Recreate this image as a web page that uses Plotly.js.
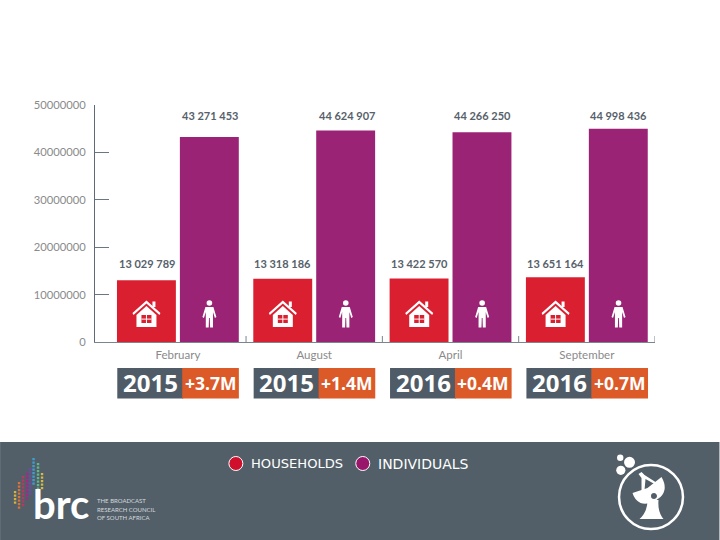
<!DOCTYPE html>
<html>
<head>
<meta charset="utf-8">
<script src="https://cdn.plot.ly/plotly-3.0.1.min.js"></script>
<style>html,body{margin:0;padding:0;background:#fff}#chart{width:720px;height:540px}</style>
</head>
<body>
<div id="chart"></div>
<script>
const months = ["February", "August", "April", "September"];
const years = ["2015", "2015", "2016", "2016"];
const changes = ["+3.7M", "+1.4M", "+0.4M", "+0.7M"];
const households = [13029789, 13318186, 13422570, 13651164];
const individuals = [43271453, 44624907, 44266250, 44998436];
const yTicks = [0, 10000000, 20000000, 30000000, 40000000, 50000000];

const RED = "#DA2030", PURPLE = "#9B2375", SLATE = "#4F5C67", ORANGE = "#DC5A27", BAND = "#525F69";
const L = 95, R = 655.5, T = 105, B = 342;
const GROUP = 136.5, C0 = 178;
const xs = months.map((_, i) => i);
const px = x => (x - L) / (R - L);
const py = y => (B - y) / (B - T);
const conv = d => d.replace(/(-?[\d.]+),(-?[\d.]+)/g, (_, a, b) => px(+a).toFixed(5) + "," + py(+b).toFixed(5));
const path = (d, fill, extra) => Object.assign({type: "path", xref: "paper", yref: "paper", path: conv(d), fillcolor: fill, line: {width: 0}}, extra || {});
const rect = (x0, y0, x1, y1, fill, extra) => Object.assign({type: "rect", xref: "paper", yref: "paper", x0: px(x0), x1: px(x1), y0: py(y0), y1: py(y1), fillcolor: fill, line: {width: 0}}, extra || {});
const circ = (cx, cy, r, fill, line) => ({type: "circle", xref: "paper", yref: "paper", x0: px(cx - r), x1: px(cx + r), y0: py(cy - r), y1: py(cy + r), fillcolor: fill, line: line || {width: 0}});
const fmt = v => String(v).replace(/\B(?=(\d{3})+$)/g, " ");

const shapes = [];
const annotations = [];
const txt = (x, y, text, size, color, family, anchor, weight) => annotations.push({
  xref: "paper", yref: "paper", x: px(x), y: py(y), text, showarrow: false, xanchor: anchor || "center", yanchor: "middle",
  font: {size, color, family: family || "Lato, sans-serif", weight: weight || 400}, borderpad: 0, borderwidth: 0
});

// footer band
shapes.push(rect(0, 442, 720, 540, BAND, {layer: "below"}));

months.forEach((m, i) => {
  const c = C0 + GROUP * i;
  // boundary tick on the axis
  shapes.push({type: "line", xref: "x", yref: "paper", x0: i + 0.5, x1: i + 0.5, y0: 0, y1: py(336), line: {color: "#7b858d", width: 1}});
  // house icon
  const h = c - 31.5;
  shapes.push(path(`M ${h-14},313 L ${h},300.5 L ${h+14},313 L ${h+13},315 L ${h},303.5 L ${h-13},315 Z`, "#fff"));
  shapes.push(path(`M ${h-10},315 L ${h},306 L ${h+10},315 L ${h+10},327 L ${h-10},327 Z`, "#fff"));
  shapes.push(rect(h + 6, 301.5, h + 9, 307, "#fff"));
  shapes.push(rect(h - 5, 315, h + 5, 323, RED));
  shapes.push(rect(h - 0.5, 315, h + 0.5, 323, "#fff"));
  shapes.push(rect(h - 5, 318.6, h + 5, 319.6, "#fff"));
  // person icon
  const p = c + 31.5;
  shapes.push(circ(p, 303, 2.8, "#fff"));
  shapes.push(path(`M ${p-4},307 L ${p+4},307 L ${p+7},317 L ${p+5.5},318 L ${p+3.6},312 L ${p+3.6},327.5 L ${p+0.7},327.5 L ${p+0.4},318 L ${p-0.4},318 L ${p-0.7},327.5 L ${p-3.6},327.5 L ${p-3.6},312 L ${p-5.5},318 L ${p-7},317 Z`, "#fff"));
  // badge
  const left = c - 60.7, mid = left + 65, right = c + 61;
  shapes.push(rect(left, 368, mid + 1, 398.5, SLATE));
  shapes.push(rect(mid, 368, right, 398.5, ORANGE));
  txt((left + mid) / 2 + 0.5, 382.5, years[i], 24, "#fff", "'Open Sans', sans-serif", "center", 700);
  txt((mid + right) / 2, 382.5, changes[i], 17.5, "#fff", "'Open Sans', sans-serif", "center", 700);
  // value labels, read at the chart's fixed label rows
  annotations.push({xref: "x", yref: "paper", x: i, y: py(263), xshift: -1, xanchor: "right", yanchor: "middle", showarrow: false, text: fmt(households[i]), font: {size: 11, color: "#56616a", family: "Lato, sans-serif", weight: 700}});
  annotations.push({xref: "x", yref: "paper", x: i, y: py(115), xshift: 62.5, xanchor: "right", yanchor: "middle", showarrow: false, text: fmt(individuals[i]), font: {size: 11, color: "#56616a", family: "Lato, sans-serif", weight: 700}});
});

// legend in the footer
shapes.push(circ(236, 463.5, 7, "#CF0F2C", {color: "#fff", width: 1}));
shapes.push(circ(363, 463.5, 7, "#98176B", {color: "#fff", width: 1}));
txt(251, 463.5, "HOUSEHOLDS", 13.1, "#fff", "'DejaVu Sans', sans-serif", "left");
txt(378, 463.5, "INDIVIDUALS", 14, "#fff", "'DejaVu Sans', sans-serif", "left");

// BRC logo
const dotCols = [
  [15, 491, 502, "#d9b23c"], [19, 482, 507, "#d8743a"], [23, 476, 505, "#b83a5e"], [27, 473, 498, "#a02a86"],
  [30, 468, 494, "#6d4aa6"], [33.5, 458, 483, "#3f9fd0"], [38, 463, 488, "#5fb98a"], [42, 473, 489, "#d6bb3e"]
];
dotCols.forEach(([x, y0, y1, col]) => {
  for (let y = y0; y <= y1; y += 3.5) shapes.push(rect(x - 1.2, y, x + 1.2, y + 2.2, col));
});
txt(33, 503.5, "brc", 40, "#fff", "Lato, sans-serif", "left", 700);
txt(97, 500.5, "THE BROADCAST", 6, "#d5d9dc", "Lato, sans-serif", "left");
txt(97, 509, "RESEARCH COUNCIL", 6, "#d5d9dc", "Lato, sans-serif", "left");
txt(97, 517, "OF SOUTH AFRICA", 6, "#d5d9dc", "Lato, sans-serif", "left");

// dish emblem
shapes.push(circ(651.5, 497, 32, "rgba(0,0,0,0)", {color: "#fff", width: 2.5}));
shapes.push(circ(620.7, 457.7, 3.2, "#fff"));
shapes.push(circ(630, 462.3, 5.5, "#fff"));
shapes.push(circ(621.3, 470.3, 4.6, "#fff"));
shapes.push(path("M 633,493 L 648,488 L 662,477 Q 669,489 661,497 Q 650,506 641,503 Q 635,500 633,493 Z", "#fff"));
shapes.push(path("M 648,500 L 659,500 Q 658,512 664,519 L 640,519 Q 648,512 648,500 Z", "#fff"));
shapes.push(path("M 639,474 L 642,472 L 645,475 L 656,482 L 655,484 L 646,479 L 645,490 L 642,490 L 642,478 Z", "#fff"));
shapes.push(circ(654.5, 496, 3.6, BAND, {color: "#fff", width: 1.2}));

const traces = [
  {type: "bar", name: "HOUSEHOLDS", x: xs, y: households, marker: {color: RED}, hoverinfo: "y"},
  {type: "bar", name: "INDIVIDUALS", x: xs, y: individuals, marker: {color: PURPLE}, hoverinfo: "y"}
];

const layout = {
  width: 720, height: 540,
  margin: {l: L, r: 720 - R, t: T, b: 540 - B, pad: 0},
  paper_bgcolor: "#fff", plot_bgcolor: "#fff",
  barmode: "group", bargap: 0.077, bargroupgap: 0.0635,
  showlegend: false,
  font: {family: "Lato, sans-serif"},
  xaxis: {
    range: [-0.608, 3.5], tickmode: "array", tickvals: xs, ticktext: months, ticks: "",
    showgrid: false, zeroline: false, showline: true, linecolor: "#7b858d", linewidth: 1,
    tickfont: {size: 11.5, color: "#8a8a8a", family: "Lato, sans-serif"}, ticklabelstandoff: 2
  },
  yaxis: {
    range: [0, 50000000], tickmode: "array", tickvals: yTicks, ticktext: yTicks.map(String),
    ticks: "inside", ticklen: 14, tickwidth: 1, tickcolor: "#6a7680",
    showgrid: false, zeroline: false, showline: true, linecolor: "#5e6a74", linewidth: 1,
    tickfont: {size: 11.2, color: "#8a8a8a", family: "Lato, sans-serif"}, ticklabelstandoff: 6
  },
  shapes, annotations
};
Plotly.newPlot("chart", traces, layout, {displayModeBar: false, staticPlot: true});
</script>
</body>
</html>
